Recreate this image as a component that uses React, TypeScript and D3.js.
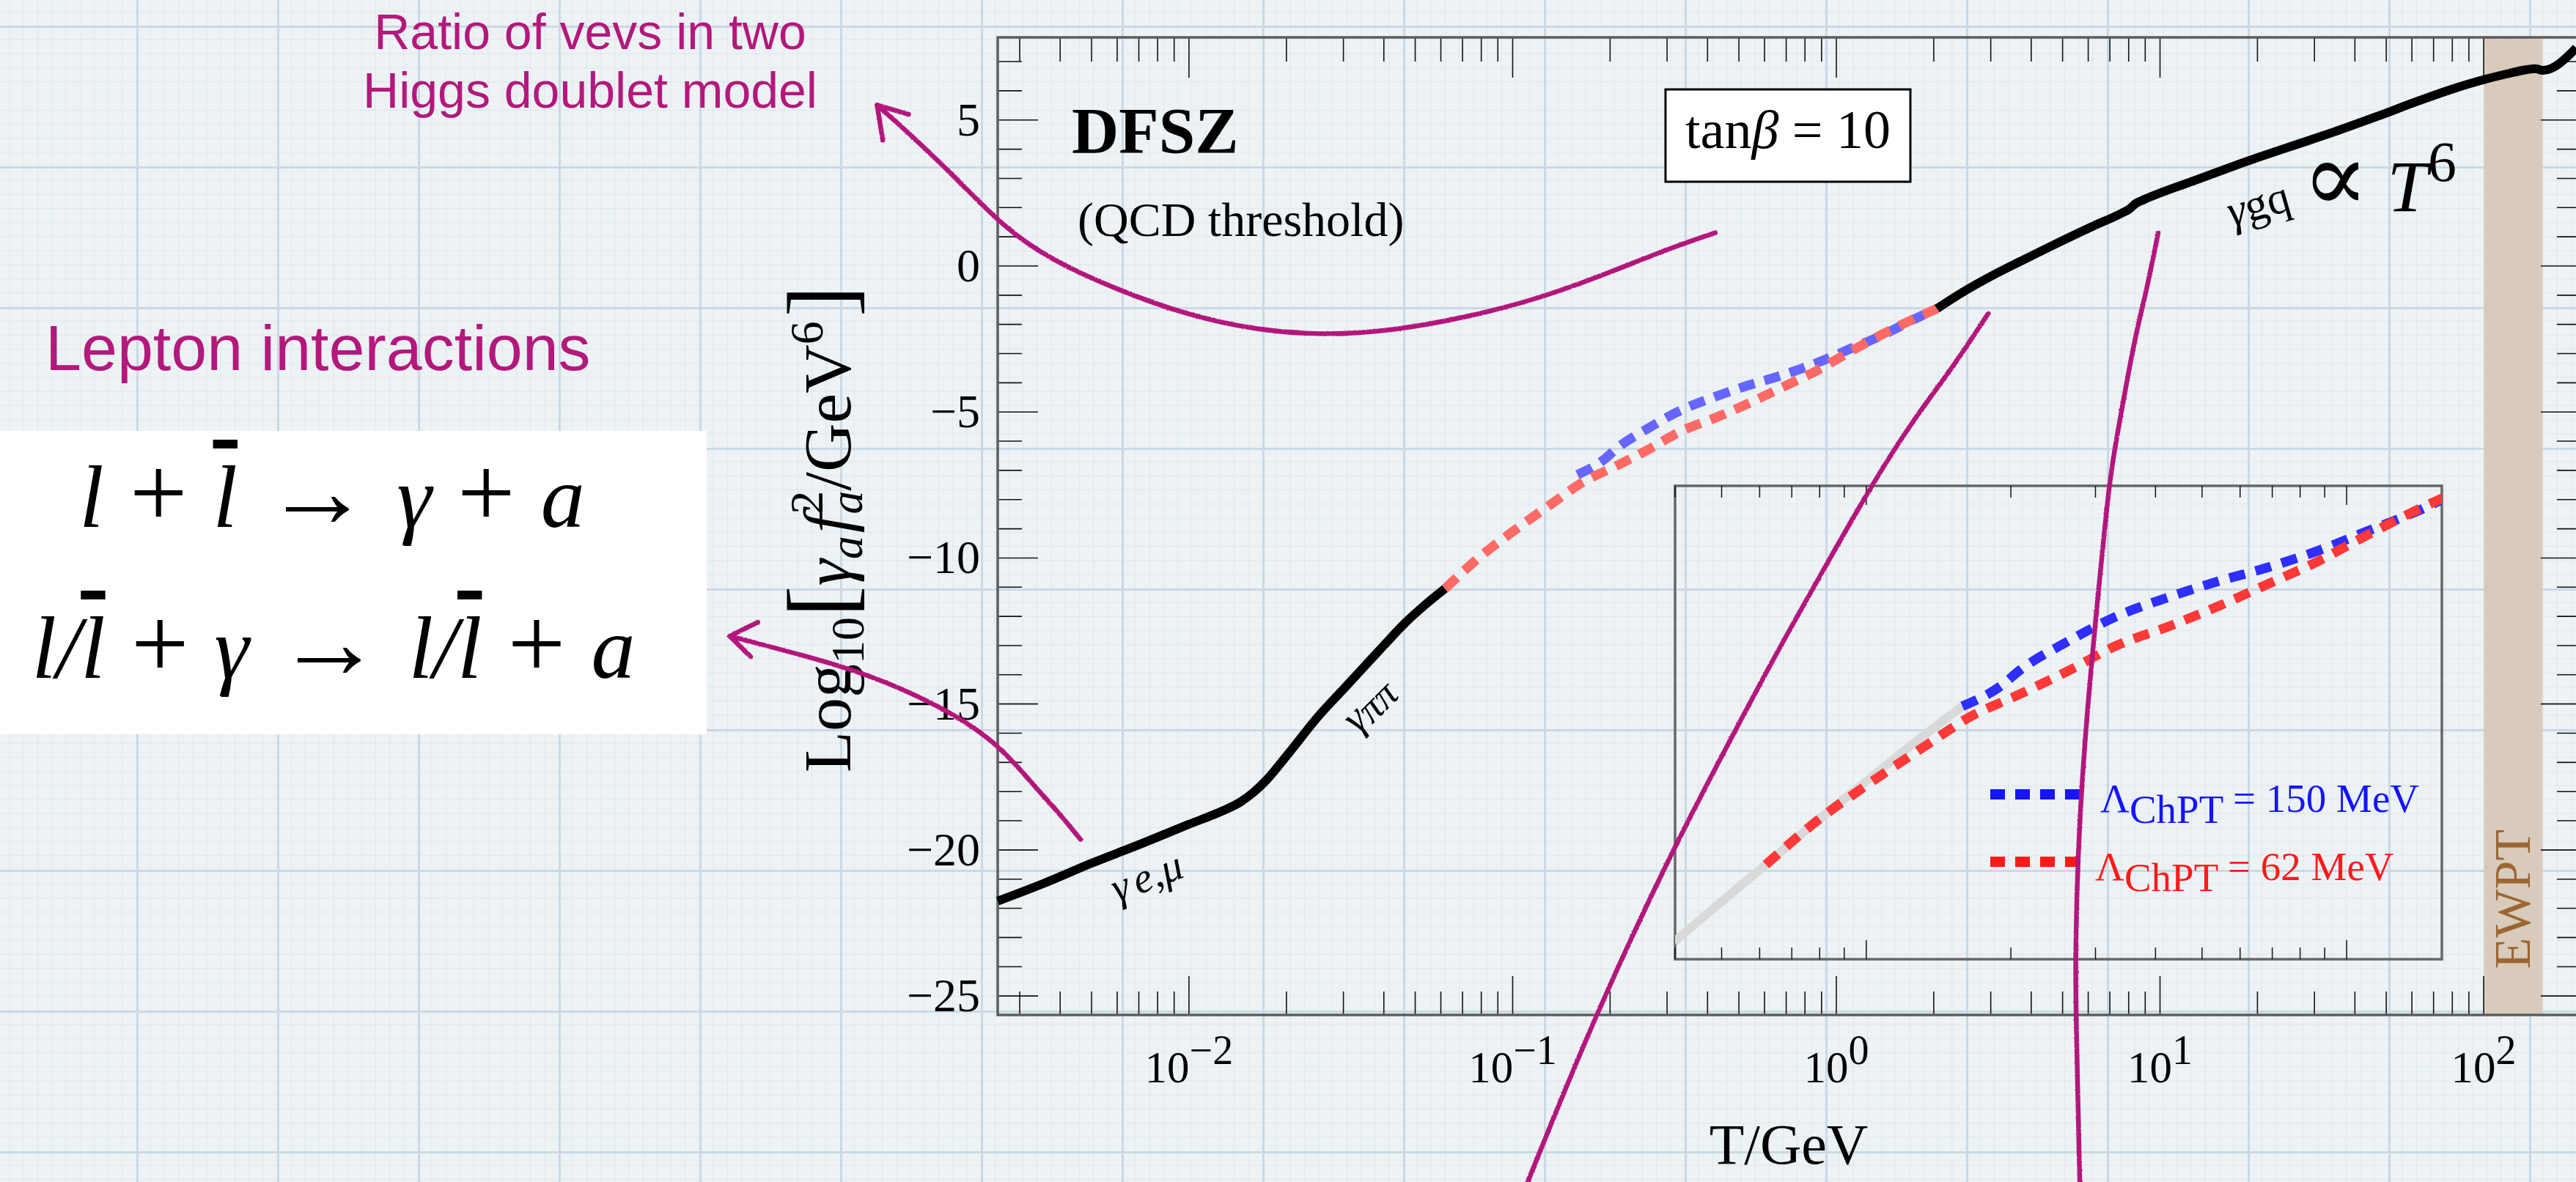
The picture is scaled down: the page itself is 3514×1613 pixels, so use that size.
import React from 'react';
import * as d3 from 'd3';

const W = 3514;
const H = 1613;
const SERIF = "'Liberation Serif','Times New Roman',Times,'DejaVu Serif',serif";
const SANS = "'Liberation Sans',Arial,Helvetica,sans-serif";
const MAGENTA = '#b3187c';

// ---------- data: x = log10(T/GeV), y = Log10[γ_a f_a^2 / GeV^6] ----------
const blackLowLogT = [-2.591, -2.45, -2.3, -2.15, -2.0, -1.9, -1.84, -1.8, -1.76, -1.7, -1.6, -1.52, -1.45, -1.4, -1.33, -1.27, -1.209];
const blackLowY = [-21.75, -21.15, -20.45, -19.8, -19.12, -18.68, -18.35, -18.02, -17.6, -16.8, -15.42, -14.46, -13.62, -13.02, -12.2, -11.6, -11.05];

const red62LogT = [-1.209, -1.1, -1.0, -0.87, -0.79, -0.68, -0.58, -0.48, -0.37, -0.27, -0.17, -0.06, 0.04, 0.14, 0.25, 0.311];
const red62Y = [-11.05, -9.95, -9.1, -8.07, -7.45, -6.85, -6.28, -5.66, -5.18, -4.7, -4.17, -3.58, -2.95, -2.35, -1.76, -1.46];

const blue150LogT = [-0.8, -0.72, -0.68, -0.58, -0.48, -0.37, -0.27, -0.17, -0.06, 0.04, 0.14, 0.25, 0.311];
const blue150Y = [-7.15, -6.65, -6.26, -5.55, -4.94, -4.46, -4.08, -3.75, -3.32, -2.85, -2.38, -1.77, -1.46];

const grayPionLogT = [-1.4, -1.3, -1.209, -1.1, -1.0, -0.9, -0.8];
const grayPionY = [-12.95, -11.95, -11.05, -9.95, -9.0, -8.05, -7.15];

const blackHighLogT = [0.311, 0.39, 0.48, 0.58, 0.68, 0.79, 0.88, 0.905, 0.925, 0.95, 1.1, 1.27, 1.4, 1.54, 1.67, 1.8, 1.9, 2.006, 2.08, 2.13, 2.16, 2.183, 2.286];
const blackHighY = [-1.46, -0.9, -0.34, 0.22, 0.77, 1.35, 1.8, 1.95, 2.14, 2.27, 2.9, 3.59, 4.08, 4.6, 5.12, 5.66, 6.05, 6.4, 6.6, 6.72, 6.76, 6.7, 7.47];

// hand-drawn annotation strokes, same coordinates
const vevArcLogT = [-2.9635, -2.877, -2.725, -2.573, -2.422, -2.227, -2.01, -1.794, -1.577, -1.36, -1.144, -0.927, -0.71, -0.515, -0.374];
const vevArcY = [5.51, 4.67, 3.08, 1.32, 0.18, -0.79, -1.67, -2.2, -2.38, -2.2, -1.76, -1.15, -0.27, 0.61, 1.14];
const vevArrowLogT = [-2.866, -2.9635, -2.946];
const vevArrowY = [5.19, 5.51, 4.31];

const leptonArcLogT = [-3.4186, -3.202, -2.985, -2.769, -2.595, -2.487, -2.4, -2.335];
const leptonArcY = [-12.68, -13.3, -14.0, -15.06, -16.29, -17.7, -18.75, -19.64];
const leptonArrowLogT = [-3.332, -3.4186, -3.354];
const leptonArrowY = [-12.2, -12.68, -13.38];

const steepALogT = [-0.9536, -0.7452, -0.5096, -0.358, -0.2039, -0.0498, 0.1178, 0.2469, 0.3624, 0.4689];
const steepAY = [-31.37, -25.65, -20.08, -16.87, -13.63, -10.6, -7.33, -5.12, -3.44, -1.63];

const steepBLogT = [0.9943, 0.9536, 0.9219, 0.8653, 0.8449, 0.8064, 0.7701, 0.7452, 0.7384, 0.7406, 0.752];
const steepBY = [1.13, -1.1, -2.43, -5.95, -7.2, -11.5, -15.79, -20.08, -24.02, -25.65, -31.37];

// axes
const xDomain = [0.002565, 200];
const yDomain = [-25.65, 7.83];
const insetXDomain = [0.04, 1.578];
const insetYDomain = [-13.38, -1.72];
const yMajorTicks = [-25, -20, -15, -10, -5, 0, 5];
const yTickLabels = ['\u221225', '\u221220', '\u221215', '\u221210', '\u22125', '0', '5'];
const xMajorTicks = [0.01, 0.1, 1, 10, 100];
const xTickExps = ['\u22122', '\u22121', '0', '1', '2'];
const ewptRange = [100, 152];
const legendLabels = ['150 MeV', '62 MeV'];
const legendColors = ['#1414ff', '#ff1a1a'];

type P = [number, number];
const toPts = (lt: number[], v: number[]): P[] => lt.map((l, i) => [Math.pow(10, l), v[i]] as P);

export default function App() {
  const x = d3.scaleLog().domain(xDomain).range([1361, 3521]);
  const y = d3.scaleLinear().domain(yDomain).range([1385, 51]);
  const xi = d3.scaleLog().domain(insetXDomain).range([2285, 3331]);
  const yi = d3.scaleLinear().domain(insetYDomain).range([1309, 663]);
  const [X0, X1] = x.range();
  const [Y0, Y1] = y.range();
  const [IX0, IX1] = xi.range();
  const [IY0, IY1] = yi.range();

  const mainLine = d3.line<P>().x(d => x(d[0])).y(d => y(d[1])).curve(d3.curveMonotoneX);
  const insetLine = d3.line<P>().x(d => xi(d[0])).y(d => yi(d[1])).curve(d3.curveMonotoneX);
  const sketch = d3.line<P>().x(d => x(d[0])).y(d => y(d[1])).curve(d3.curveBasis);
  const straight = d3.line<P>().x(d => x(d[0])).y(d => y(d[1]));

  const isMajor = (t: number) => Math.abs(Math.log10(t) - Math.round(Math.log10(t))) < 1e-6;
  const xTicks = x.ticks();
  const yTicks = d3.range(Math.ceil(yDomain[0]), Math.floor(yDomain[1]) + 1);
  const xiTicks = xi.ticks();

  const gridMinor = d3.range(1, 10).map(i => i * 19.2);

  const tick = '#111';

  return (
    <svg width={W} height={H} style={{ position: 'absolute', left: 0, top: 0, display: 'block' }}>
      <defs>
        <pattern id="paper" width={192} height={192} patternUnits="userSpaceOnUse" x={186} y={35}>
          <rect width={192} height={192} fill="#edf2f5" />
          {gridMinor.map(g => (
            <g key={g}>
              <line x1={g} x2={g} y1={0} y2={192} stroke="#dfe8ee" strokeWidth={1} />
              <line y1={g} y2={g} x1={0} x2={192} stroke="#dfe8ee" strokeWidth={1} />
            </g>
          ))}
          <line x1={1.5} x2={1.5} y1={0} y2={192} stroke="#cad9e3" strokeWidth={3} />
          <line y1={1.5} y2={1.5} x1={0} x2={192} stroke="#cad9e3" strokeWidth={3} />
        </pattern>
        <filter id="rough" filterUnits="userSpaceOnUse" x={0} y={0} width={W} height={H}>
          <feTurbulence type="fractalNoise" baseFrequency="0.6" numOctaves={1} seed={4} result="noise" />
          <feDisplacementMap in="SourceGraphic" in2="noise" scale={2.5} xChannelSelector="R" yChannelSelector="G" />
        </filter>
        <clipPath id="insetClip">
          <rect x={IX0} y={IY1} width={IX1 - IX0} height={IY0 - IY1} />
        </clipPath>
      </defs>

      <rect width={W} height={H} fill="url(#paper)" />

      {/* left annotations */}
      <text x={805} y={67} textAnchor="middle" fontFamily={SANS} fontSize={68} fill={MAGENTA}>Ratio of vevs in two</text>
      <text x={805} y={147} textAnchor="middle" fontFamily={SANS} fontSize={68} fill={MAGENTA}>Higgs doublet model</text>
      <text x={62} y={505} fontFamily={SANS} fontSize={88} fill={MAGENTA}>Lepton interactions</text>

      <rect x={0} y={588} width={964} height={414} fill="#ffffff" />
      <text x={453} y={719} textAnchor="middle" fontFamily={SERIF} fontSize={120} fill="#000" style={{ whiteSpace: 'pre' }}>
        <tspan fontStyle="italic">l</tspan>
        <tspan fontSize={140}>{' + '}</tspan>
        <tspan fontStyle="italic" style={{ textDecoration: 'overline' }}>l</tspan>
        <tspan fontSize={145}>{' \u2192 '}</tspan>
        <tspan fontStyle="italic">{'\u03b3'}</tspan>
        <tspan fontSize={140}>{' + '}</tspan>
        <tspan fontStyle="italic">a</tspan>
      </text>
      <text x={455} y={925} textAnchor="middle" fontFamily={SERIF} fontSize={120} fill="#000" style={{ whiteSpace: 'pre' }}>
        <tspan fontStyle="italic">l</tspan>
        <tspan fontStyle="italic">/</tspan>
        <tspan fontStyle="italic" style={{ textDecoration: 'overline' }}>l</tspan>
        <tspan fontSize={140}>{' + '}</tspan>
        <tspan fontStyle="italic">{'\u03b3'}</tspan>
        <tspan fontSize={145}>{' \u2192 '}</tspan>
        <tspan fontStyle="italic">l</tspan>
        <tspan fontStyle="italic">/</tspan>
        <tspan fontStyle="italic" style={{ textDecoration: 'overline' }}>l</tspan>
        <tspan fontSize={140}>{' + '}</tspan>
        <tspan fontStyle="italic">a</tspan>
      </text>

      {/* EWPT band */}
      <rect x={x(ewptRange[0])} y={Y1 - 2} width={x(ewptRange[1]) - x(ewptRange[0])} height={Y0 - Y1} fill="#d8cbbb" />
      <text transform={`translate(${(x(ewptRange[0]) + x(ewptRange[1])) / 2 + 23},1227) rotate(-90)`} textAnchor="middle"
        fontFamily={SERIF} fontSize={70} fill="#9c6632">EWPT</text>

      {/* axis ticks */}
      {xTicks.map((t, i) => {
        const m = isMajor(t);
        const px = x(t);
        return (
          <g key={'xt' + i}>
            <line x1={px} x2={px} y1={Y0} y2={Y0 - (m ? 53 : 32)} stroke={tick} strokeWidth={1.6} />
            <line x1={px} x2={px} y1={Y1} y2={Y1 + (m ? 55 : 33)} stroke={tick} strokeWidth={1.6} />
          </g>
        );
      })}
      {yTicks.map(t => {
        const m = yMajorTicks.includes(t);
        const py = y(t);
        return (
          <g key={'yt' + t}>
            <line x1={X0} x2={X0 + (m ? 55 : 33)} y1={py} y2={py} stroke={tick} strokeWidth={1.6} />
            <line x1={X1} x2={X1 - (m ? 55 : 33)} y1={py} y2={py} stroke={tick} strokeWidth={1.6} />
          </g>
        );
      })}

      {/* frame */}
      <rect x={X0} y={Y1} width={X1 - X0} height={Y0 - Y1} fill="none" stroke="#5c5c5c" strokeWidth={3.5} />

      {/* tick labels */}
      {yMajorTicks.map((t, i) => (
        <text key={'yl' + t} x={1337} y={y(t) + 21} textAnchor="end" fontFamily={SERIF} fontSize={64} fill="#000">{yTickLabels[i]}</text>
      ))}
      {xMajorTicks.map((t, i) => (
        <text key={'xl' + t} x={x(t)} y={1477} textAnchor="middle" fontFamily={SERIF} fontSize={61} fill="#000">
          10<tspan fontSize={56} dy={-25}>{xTickExps[i]}</tspan>
        </text>
      ))}
      <text x={2440} y={1588} textAnchor="middle" fontFamily={SERIF} fontSize={78} fill="#000">T/GeV</text>

      {/* y-axis label */}
      <text transform="translate(1160,722) rotate(-90)" textAnchor="middle" fontFamily={SERIF} fontSize={92} fill="#000">
        Log<tspan fontSize={64} dy={18}>10</tspan>
        <tspan fontSize={128} dy={-16}>[</tspan>
        <tspan fontStyle="italic" dy={-2}>{'\u03b3'}</tspan>
        <tspan fontStyle="italic" fontSize={64} dy={16}>a</tspan>
        <tspan fontStyle="italic" dx={4} dy={-16}>f</tspan>
        <tspan fontSize={64} dy={-38}>2</tspan>
        <tspan fontStyle="italic" fontSize={64} dx={-32} dy={54}>a</tspan>
        <tspan dy={-16}>/GeV</tspan>
        <tspan fontSize={64} dy={-38}>6</tspan>
        <tspan fontSize={128} dx={6} dy={40}>]</tspan>
      </text>

      {/* plot labels */}
      <text x={1462} y={208} fontFamily={SERIF} fontWeight="bold" fontSize={89} fill="#000">DFSZ</text>
      <text x={1470} y={322} fontFamily={SERIF} fontSize={66} fill="#000">(QCD threshold)</text>
      <rect x={2272} y={122} width={334} height={126} fill="#ffffff" stroke="#000" strokeWidth={3} />
      <text x={2439} y={202} textAnchor="middle" fontFamily={SERIF} fontSize={74} fill="#000" style={{ whiteSpace: 'pre' }}>
        tan<tspan fontStyle="italic">{'\u03b2'}</tspan>{' = 10'}
      </text>

      {/* inset */}
      <rect x={IX0} y={IY1} width={IX1 - IX0} height={IY0 - IY1} fill="none" stroke="#666" strokeWidth={3.5} />
      {xiTicks.map((t, i) => {
        const m = isMajor(t);
        const px = xi(t);
        return (
          <g key={'it' + i}>
            <line x1={px} x2={px} y1={IY1} y2={IY1 + (m ? 26 : 16)} stroke={tick} strokeWidth={1.5} />
            <line x1={px} x2={px} y1={IY0} y2={IY0 - (m ? 26 : 16)} stroke={tick} strokeWidth={1.5} />
          </g>
        );
      })}
      <g clipPath="url(#insetClip)">
        <path d={insetLine(toPts(grayPionLogT, grayPionY)) || ''} fill="none" stroke="#d9d9d9" strokeWidth={12} />
        <path d={insetLine(toPts(blue150LogT, blue150Y)) || ''} fill="none" stroke="#2e2eff" strokeWidth={13} strokeDasharray="22 15" />
        <path d={insetLine(toPts(red62LogT, red62Y)) || ''} fill="none" stroke="#ff3838" strokeWidth={13} strokeDasharray="22 15" />
      </g>
      {legendLabels.map((lab, i) => {
        const ly = [1084, 1176][i];
        const ty = [1108, 1201][i];
        const tx = [2865, 2858][i];
        return (
          <g key={lab}>
            <line x1={2715} x2={2838} y1={ly} y2={ly} stroke={legendColors[i]} strokeWidth={14} strokeDasharray="20 14" />
            <text x={tx} y={ty} fontFamily={SERIF} fontSize={55} fill={legendColors[i]} style={{ whiteSpace: 'pre' }}>
              {'\u039b'}<tspan dy={15}>ChPT</tspan><tspan dy={-15}>{' = ' + lab}</tspan>
            </text>
          </g>
        );
      })}

      {/* main curves */}
      <path d={mainLine(toPts(blackLowLogT, blackLowY)) || ''} fill="none" stroke="#000" strokeWidth={12} strokeLinejoin="round" />
      <path d={mainLine(toPts(blue150LogT, blue150Y)) || ''} fill="none" stroke="#6666ff" strokeWidth={13} strokeDasharray="22 14" />
      <path d={mainLine(toPts(red62LogT, red62Y)) || ''} fill="none" stroke="#ff6a66" strokeWidth={13} strokeDasharray="22 14" />
      <path d={mainLine(toPts(blackHighLogT, blackHighY)) || ''} fill="none" stroke="#000" strokeWidth={12} strokeLinejoin="round" />

      {/* curve labels */}
      <text transform="translate(1571,1214) rotate(-21)" textAnchor="middle" fontFamily={SERIF} fontStyle="italic" fontSize={58} fill="#000">
        {'\u03b3'}<tspan dx={8}>{'e,\u03bc'}</tspan>
      </text>
      <text transform="translate(1880,975) rotate(-45)" textAnchor="middle" fontFamily={SERIF} fontStyle="italic" fontSize={58} fill="#000">
        {'\u03b3'}<tspan fontSize={54} dy={4}>{'\u03c0\u03c0'}</tspan>
      </text>
      <text transform="translate(3086,298) rotate(-16)" textAnchor="middle" fontFamily={SERIF} fontSize={62} fill="#000">
        <tspan fontStyle="italic">{'\u03b3'}</tspan>gq
      </text>
      <text x={3140} y={288} fontFamily={SERIF} fontSize={100} fill="#000" style={{ whiteSpace: 'pre' }}>
        <tspan fontSize={135}>{'\u221d'}</tspan>{' '}<tspan fontStyle="italic">T</tspan><tspan fontSize={78} dy={-41}>6</tspan>
      </text>

      {/* hand-drawn magenta annotations */}
      <g filter="url(#rough)" fill="none" stroke={MAGENTA} strokeWidth={6.5} strokeLinecap="round" strokeLinejoin="round">
        <path d={sketch(toPts(vevArcLogT, vevArcY)) || ''} />
        <path d={straight(toPts(vevArrowLogT, vevArrowY)) || ''} />
        <path d={sketch(toPts(leptonArcLogT, leptonArcY)) || ''} />
        <path d={straight(toPts(leptonArrowLogT, leptonArrowY)) || ''} />
        <path d={sketch(toPts(steepALogT, steepAY)) || ''} />
        <path d={sketch(toPts(steepBLogT, steepBY)) || ''} />
      </g>
    </svg>
  );
}
